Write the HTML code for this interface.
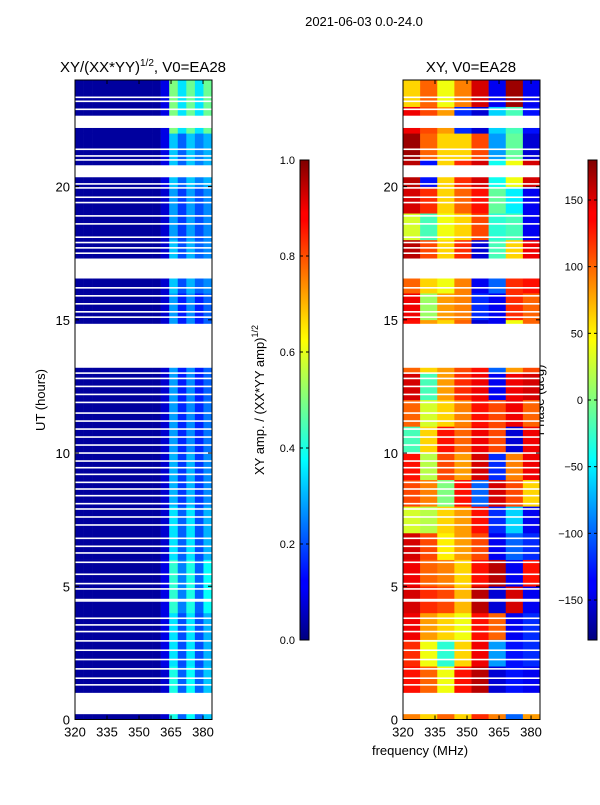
<!DOCTYPE html>
<html><head><meta charset="utf-8"><style>
body{margin:0;background:#fff;}
svg text{font-family:"Liberation Sans",sans-serif;fill:#000;}
</style></head><body>
<svg id="fig" width="600" height="800" xmlns="http://www.w3.org/2000/svg">
<defs>
<linearGradient id="jet" x1="0" y1="1" x2="0" y2="0">
<stop offset="0" stop-color="#00007f"/><stop offset="0.11" stop-color="#0000ff"/><stop offset="0.125" stop-color="#0000ff"/>
<stop offset="0.34" stop-color="#00dcff"/><stop offset="0.375" stop-color="#00ffff"/><stop offset="0.5" stop-color="#80ff80"/>
<stop offset="0.625" stop-color="#ffff00"/><stop offset="0.66" stop-color="#ffe000"/><stop offset="0.875" stop-color="#ff0000"/><stop offset="0.89" stop-color="#ff0000"/><stop offset="1" stop-color="#7f0000"/>
</linearGradient>
</defs>
<text x="364" y="26" font-size="13" text-anchor="middle">2021-06-03 0.0-24.0</text>
<text x="143" y="72" font-size="15" text-anchor="middle">XY/(XX*YY)<tspan dy="-6" font-size="10">1/2</tspan><tspan dy="6">, V0=EA28</tspan></text>
<text x="471" y="72" font-size="15" text-anchor="middle">XY, V0=EA28</text>
<text x="420" y="755" font-size="13" text-anchor="middle">frequency (MHz)</text>
<text transform="translate(45,400) rotate(-90)" font-size="13" text-anchor="middle">UT (hours)</text>
<text transform="translate(264,400) rotate(-90)" font-size="13" text-anchor="middle">XY amp. / (XX*YY amp)<tspan dy="-6" font-size="9">1/2</tspan></text>
<text transform="translate(544,400) rotate(-90)" font-size="13" text-anchor="middle">Phase (deg)</text>
<g id="left"></g>
<g id="right"></g>
<g id="cb"></g>
</svg>
<script>
const freqRange=[320,384.2];
const utRange=[0,24];
const freqTicks=[320,335,350,365,380];
const utTicks=[0,5,10,15,20];
const ampTicks=[0.0,0.2,0.4,0.6,0.8,1.0];
const phaseTicks=[-150,-100,-50,0,50,100,150];
// white (flagged) gaps in UT hours
const gaps=[[0.2,1.0],[13.2,14.85],[16.55,17.3],[20.35,20.8],[22.2,22.66]];
const thinGaps=[1.3,1.55,1.9,2.25,2.6,2.95,3.3,3.55,3.8,4.45,4.5,4.9,5.1,5.45,5.9,6.25,6.5,6.8,7.3,7.6,7.9,8.1,8.4,8.65,8.9,9.2,9.45,9.7,10.0,10.3,10.6,10.9,11.2,11.5,11.9,12.2,12.5,12.8,13.0,15.1,15.3,15.6,15.9,16.2,17.5,17.7,17.9,18.1,18.6,18.9,19.4,19.6,19.95,20.1,21.0,21.15,21.4,22.9,23.2,23.35];
// amplitude grid: 12 rows (2h each, from 0h), 16 freq columns of 4 MHz
const ampRows=[
[0.03,0.03,0.03,0.03,0.03,0.03,0.03,0.03,0.03,0.03,0.08,0.4,0.22,0.38,0.22,0.32],
[0.03,0.03,0.03,0.03,0.03,0.03,0.03,0.03,0.03,0.03,0.1,0.35,0.2,0.35,0.2,0.3],
[0.03,0.03,0.03,0.03,0.03,0.03,0.03,0.03,0.03,0.03,0.1,0.42,0.25,0.4,0.22,0.38],
[0.03,0.03,0.03,0.03,0.03,0.03,0.03,0.03,0.03,0.03,0.08,0.35,0.22,0.35,0.2,0.3],
[0.03,0.03,0.03,0.03,0.03,0.03,0.03,0.03,0.03,0.03,0.08,0.3,0.18,0.3,0.18,0.26],
[0.03,0.03,0.03,0.03,0.03,0.03,0.03,0.03,0.03,0.03,0.08,0.28,0.16,0.26,0.16,0.24],
[0.03,0.03,0.03,0.03,0.03,0.03,0.03,0.03,0.03,0.03,0.08,0.28,0.15,0.26,0.15,0.22],
[0.03,0.03,0.03,0.03,0.03,0.03,0.03,0.03,0.03,0.03,0.08,0.28,0.15,0.26,0.15,0.22],
[0.03,0.03,0.03,0.03,0.03,0.03,0.03,0.03,0.03,0.03,0.08,0.32,0.2,0.3,0.22,0.26],
[0.03,0.03,0.03,0.03,0.03,0.03,0.03,0.03,0.03,0.03,0.08,0.28,0.18,0.28,0.2,0.26],
[0.03,0.03,0.03,0.03,0.03,0.03,0.03,0.03,0.03,0.03,0.1,0.32,0.22,0.32,0.25,0.3],
[0.03,0.03,0.03,0.03,0.03,0.03,0.03,0.03,0.03,0.03,0.1,0.5,0.35,0.48,0.35,0.48]];
// phase grid: 24 rows (1h each), 8 freq columns of 8 MHz
const phaseRows=[
[90,60,100,60,120,90,-100,80],[130,100,40,130,160,-150,-130,-140],[120,40,-30,60,140,-80,-130,-120],
[140,80,60,40,130,100,-140,-120],[150,120,110,70,160,-150,150,-140],[140,100,90,60,130,160,-140,130],
[150,110,50,80,110,-140,-100,-120],[30,20,60,80,130,-120,-60,-140],[110,90,0,130,-100,150,110,60],
[130,20,110,80,150,-120,90,140],[-20,60,130,100,140,110,-150,140],[100,30,60,90,130,110,140,100],
[150,-20,80,120,140,-140,140,150],[100,60,80,110,130,-100,80,110],[130,80,60,100,-150,-140,40,100],
[140,10,80,90,-120,-140,120,100],[100,60,40,90,-140,-100,120,130],[160,110,60,120,-150,-20,60,140],
[30,-20,40,60,110,-30,-20,-140],[150,120,60,100,130,-10,-50,-140],[160,-130,60,120,150,-40,40,150],
[170,100,60,60,110,-80,-10,-150],[140,110,80,-120,-150,-60,-20,-130],[60,100,40,90,150,-140,170,-140]];

const NS='http://www.w3.org/2000/svg';
const Y0=719.5,Y1=80;
function yScale(u){return Y0-(u-utRange[0])/(utRange[1]-utRange[0])*(Y0-Y1);}
function xScale(x0,f){return x0+(f-freqRange[0])/(freqRange[1]-freqRange[0])*137;}
function cl(v){return Math.max(0,Math.min(1,v));}
function jet(t){t=cl(t);const r=cl(1.5-Math.abs(4*t-3)),g=cl(1.5-Math.abs(4*t-2)),b=cl(1.5-Math.abs(4*t-1));
return `rgb(${Math.round(r*255)},${Math.round(g*255)},${Math.round(b*255)})`;}
function mk(tag,attrs,parent){const e=document.createElementNS(NS,tag);for(const k in attrs)e.setAttribute(k,attrs[k]);parent.appendChild(e);return e;}

function panel(g,x0,rows,norm,name){
  const nr=rows.length,nc=rows[0].length,dh=(utRange[1]-utRange[0])/nr,df=(freqRange[1]-freqRange[0])/nc;
  rows.forEach((row,i)=>row.forEach((v,j)=>{
    const xa=xScale(x0,freqRange[0]+j*df),xb=xScale(x0,freqRange[0]+(j+1)*df);
    const ya=yScale(i*dh+dh),yb=yScale(i*dh);
    const r=mk('rect',{x:xa,y:ya,width:xb-xa+0.3,height:yb-ya+0.3,fill:jet(norm(v))},g);
    
    
  }));
  gaps.forEach(gp=>{
    const r=mk('rect',{x:x0,y:yScale(gp[1]),width:137,height:yScale(gp[0])-yScale(gp[1]),fill:'#fff'},g);
    
    
  });
  thinGaps.forEach(u=>{
    const r=mk('rect',{x:x0,y:yScale(u)-0.8,width:137,height:1.6,fill:'#fff'},g);
    
    
  });
  const fr=mk('rect',{x:x0,y:Y1,width:137,height:Y0-Y1,fill:'none',stroke:'#000','stroke-width':1},g);
  
  
  freqTicks.forEach(f=>{
    const x=xScale(x0,f);
    mk('line',{x1:x,x2:x,y1:Y0,y2:Y0-4,stroke:'#000'},g);
    mk('line',{x1:x,x2:x,y1:Y1,y2:Y1+4,stroke:'#000'},g);
    const t=mk('text',{x:x,y:Y0+17,'font-size':13,'text-anchor':'middle'},g);t.textContent=f;
    
    
  });
  utTicks.forEach(u=>{
    const y=yScale(u);
    mk('line',{x1:x0,x2:x0+4,y1:y,y2:y,stroke:'#000'},g);
    mk('line',{x1:x0+137,x2:x0+133,y1:y,y2:y,stroke:'#000'},g);
    const t=mk('text',{x:x0-5,y:y+5,'font-size':13,'text-anchor':'end'},g);t.textContent=u;
    
    
  });
}
panel(document.getElementById('left'),75,ampRows,v=>v,'amp');
panel(document.getElementById('right'),403,phaseRows,v=>(v+180)/360,'phase');

const cb=document.getElementById('cb');
function colorbar(x,ticks,lo,hi,isAmp,name){
  const r=mk('rect',{x:x,y:160,width:9,height:480,fill:'url(#jet)',stroke:'#000','stroke-width':1},cb);
  
  
  ticks.forEach(v=>{
    const y=640-(v-lo)/(hi-lo)*480;
    mk('line',{x1:x,x2:x+3,y1:y,y2:y,stroke:'#000'},cb);
    mk('line',{x1:x+9,x2:x+6,y1:y,y2:y,stroke:'#000'},cb);
    const t=mk('text',{x:x-5,y:y+4,'font-size':11,'text-anchor':'end'},cb);
    t.textContent=isAmp?v.toFixed(1):(v<0?'\u2212'+(-v):String(v));
    
    
  });
}
colorbar(300,ampTicks,0,1,true,'amp-colorbar');
colorbar(588,phaseTicks,-180,180,false,'phase-colorbar');
</script>
</body></html>
